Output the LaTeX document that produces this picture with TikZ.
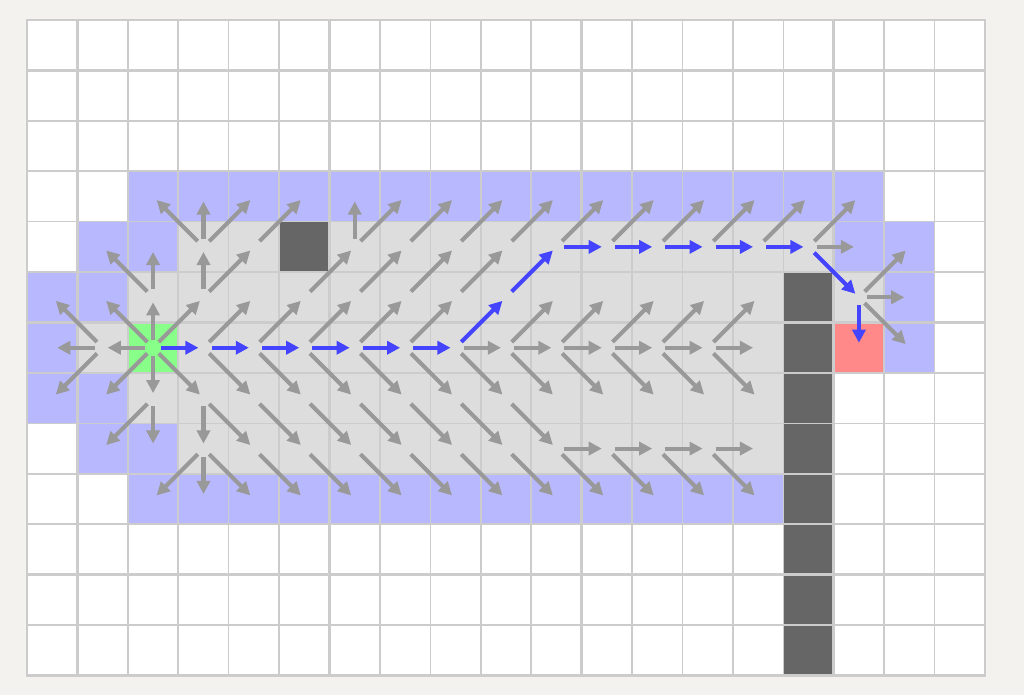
\documentclass[tikz,border=0pt]{standalone}
\usetikzlibrary{arrows.meta}

\definecolor{paper}{HTML}{F3F2EE}
\definecolor{gridgray}{HTML}{CCCCCC}
\definecolor{seen}{HTML}{DDDDDD}
\definecolor{frontier}{HTML}{B8B8FF}
\definecolor{wallgray}{HTML}{666666}
\definecolor{startgreen}{HTML}{88FF88}
\definecolor{goalred}{HTML}{FF8888}
\definecolor{pathblue}{HTML}{4444FF}
\definecolor{treegray}{HTML}{999999}

\begin{document}
\begin{tikzpicture}[
    gridline/.style={draw=gridgray, line width=0.9pt},
    majorline/.style={draw=gridgray, line width=1.9pt},
    seencell/.style={fill=seen},
    opencell/.style={fill=frontier},
    wallcell/.style={fill=wallgray},
    link/.style={-{Triangle[length=0.26cm, width=0.26cm]}, line width=2.3pt,
                 shorten <=0.16cm, shorten >=0.1cm},
    treelink/.style={link, draw=treegray},
    pathlink/.style={link, draw=pathblue}
]

% Page background
\fill[paper] (-0.536,-13.397) rectangle (19.774,0.397);
\fill[white] (0,-13) rectangle (19,0);

% Visited cells (column/row/run)
\foreach \x/\y/\w in {3/4/13, 2/5/15, 1/6/14, 2/7/13, 3/8/12} {
    \fill[seencell] (\x,-\y) rectangle ++(\w,-1);
}

% Frontier cells
\foreach \x/\y/\w in {2/3/15, 1/4/2, 16/4/2, 0/5/2, 17/5/1, 0/6/1, 17/6/1,
                      0/7/2, 1/8/2, 2/9/13} {
    \fill[opencell] (\x,-\y) rectangle ++(\w,-1);
}

% Walls
\fill[wallcell] (5,-4) rectangle (6,-5);
\fill[wallcell] (15,-5) rectangle (16,-13);

% Start and goal
\fill[startgreen] (2,-6) rectangle (3,-7);
\fill[goalred] (16,-6) rectangle (17,-7);

% Grid
\foreach \x in {0,...,19} {
    \draw[gridline] (\x,0) -- (\x,-13);
}
\foreach \y in {0,...,13} {
    \draw[gridline] (0,-\y) -- (19,-\y);
}
\foreach \x in {1,6,11,16} {
    \draw[majorline] (\x,0) -- (\x,-13);
}
\foreach \y in {1,6,11} {
    \draw[majorline] (0,-\y) -- (19,-\y);
}
\draw[gridgray, line width=1.2pt] (0,0) rectangle (19,-13);

% Cell centres
\foreach \c in {0,...,18} {
    \foreach \r in {0,...,12} {
        \coordinate (c\c-\r) at (\c+0.5,-\r-0.5);
    }
}

% Search tree (parent col/row -> child col/row)
\foreach \a/\b/\p/\q in {
    3/4/2/3, 3/4/3/3, 3/4/4/3, 4/4/5/3, 6/4/6/3, 6/4/7/3, 7/4/8/3, 8/4/9/3,
    9/4/10/3, 10/4/11/3, 11/4/12/3, 12/4/13/3, 13/4/14/3, 14/4/15/3, 15/4/16/3,
    2/5/1/4, 2/5/2/4, 3/5/3/4, 3/5/4/4, 5/5/6/4, 6/5/7/4, 7/5/8/4, 8/5/9/4,
    15/4/16/4, 16/5/17/4,
    1/6/0/5, 2/6/1/5, 2/6/2/5, 2/6/3/5, 3/6/4/5, 4/6/5/5, 5/6/6/5, 6/6/7/5,
    7/6/8/5, 9/6/10/5, 10/6/11/5, 11/6/12/5, 12/6/13/5, 13/6/14/5, 16/5/17/5,
    1/6/0/6, 2/6/1/6, 8/6/9/6, 9/6/10/6, 10/6/11/6, 11/6/12/6, 12/6/13/6,
    13/6/14/6, 16/5/17/6,
    1/6/0/7, 2/6/1/7, 2/6/2/7, 2/6/3/7, 3/6/4/7, 4/6/5/7, 5/6/6/7, 6/6/7/7,
    7/6/8/7, 8/6/9/7, 9/6/10/7, 10/6/11/7, 11/6/12/7, 12/6/13/7, 13/6/14/7,
    2/7/1/8, 2/7/2/8, 3/7/3/8, 3/7/4/8, 4/7/5/8, 5/7/6/8, 6/7/7/8, 7/7/8/8,
    8/7/9/8, 9/7/10/8, 10/8/11/8, 11/8/12/8, 12/8/13/8, 13/8/14/8,
    3/8/2/9, 3/8/3/9, 3/8/4/9, 4/8/5/9, 5/8/6/9, 6/8/7/9, 7/8/8/9, 8/8/9/9,
    9/8/10/9, 10/8/11/9, 11/8/12/9, 12/8/13/9, 13/8/14/9} {
    \draw[treelink] (c\a-\b) -- (c\p-\q);
}

% Path found
\foreach \a/\b/\p/\q in {
    2/6/3/6, 3/6/4/6, 4/6/5/6, 5/6/6/6, 6/6/7/6, 7/6/8/6, 8/6/9/5, 9/5/10/4,
    10/4/11/4, 11/4/12/4, 12/4/13/4, 13/4/14/4, 14/4/15/4, 15/4/16/5, 16/5/16/6} {
    \draw[pathlink] (c\a-\b) -- (c\p-\q);
}

\end{tikzpicture}
\end{document}
